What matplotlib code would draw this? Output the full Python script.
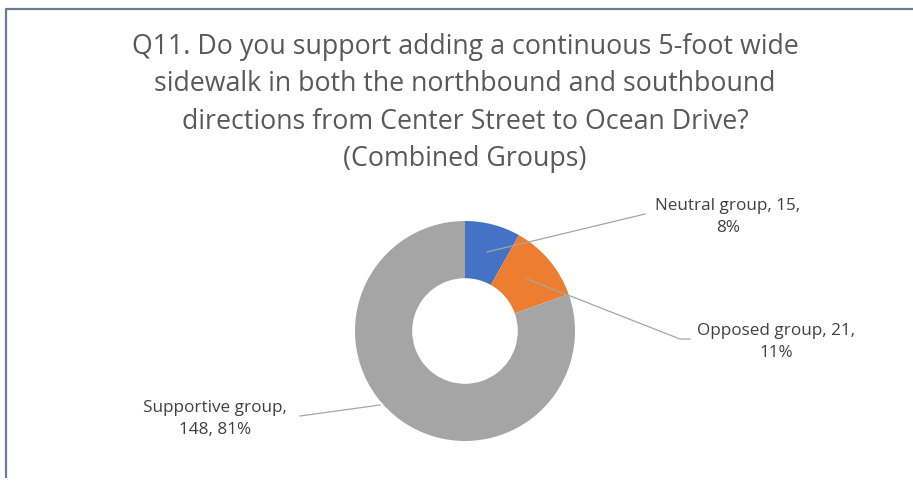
import numpy as np
import matplotlib
matplotlib.use("Agg")
from matplotlib import pyplot as plt

# data
groups = ["Neutral group", "Opposed group", "Supportive group"]
counts = [15, 21, 148]
pct_labels = ["8%", "11%", "81%"]
colors = ["#4472C4", "#ED7D31", "#A5A5A5"]

title = ("Q11. Do you support adding a continuous 5-foot wide\n"
         "sidewalk in both the northbound and southbound\n"
         "directions from Center Street to Ocean Drive?\n"
         "(Combined Groups)")

W, H = 913, 482
fig = plt.figure(figsize=(W / 100, H / 100), dpi=100)

# pie axes placed with donut centre at (465, 331) px, radius 110 px
cx, cy, R = 465, 331, 110
pax = fig.add_axes([(cx - R) / W, 1 - (cy + R) / H, 2 * R / W, 2 * R / H])
pax.pie(counts, colors=colors, startangle=90, counterclock=False, radius=1,
        wedgeprops=dict(width=0.52, edgecolor="none"))
pax.set_xlim(-1, 1)
pax.set_ylim(-1, 1)
pax.axis("off")

# overlay axes in pixel coords for frame, title, labels
ax = fig.add_axes([0, 0, 1, 1], zorder=5)
ax.patch.set_alpha(0)
ax.set_xlim(0, W)
ax.set_ylim(H, 0)
ax.axis("off")

# chart frame (left + top only visible)
ax.plot([5.5, 5.5, W + 5], [H - 4, 8.5, 8.5], color="#6d7a96", lw=1.6,
        solid_capstyle="butt", clip_on=False)

ax.text(465, 103, title, ha="center", va="center", fontsize=19.3,
        family="Open Sans", color="#595959", linespacing=1.45)

lab_font = dict(fontsize=12.3, family="Open Sans", color="#404040",
                ha="center", va="center", linespacing=1.55)
lc = "#a6a6a6"

# leader lines + labels
ax.plot([487, 645], [252, 214], color=lc, lw=0.9)
ax.text(728, 217, f"{groups[0]}, {counts[0]},\n{pct_labels[0]}", **lab_font)

ax.plot([527, 680, 690], [279, 339, 339], color=lc, lw=0.9)
ax.text(776, 342, f"{groups[1]}, {counts[1]},\n{pct_labels[1]}", **lab_font)

ax.plot([300, 380], [416, 405], color=lc, lw=0.9)
ax.text(215, 419, f"{groups[2]},\n{counts[2]}, {pct_labels[2]}", **lab_font)

fig.savefig("out.png", dpi=100)
